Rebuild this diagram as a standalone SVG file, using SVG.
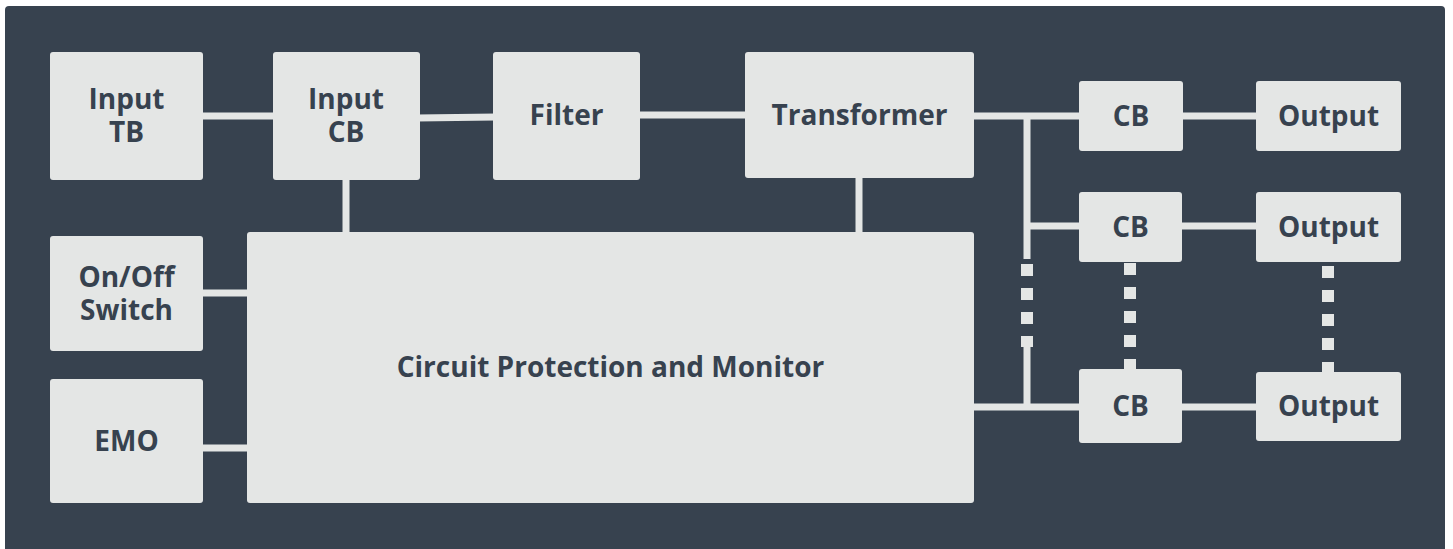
<svg xmlns="http://www.w3.org/2000/svg" width="1453" height="549" viewBox="0 0 1453 549">
<style>
.bg{fill:#37424f}
.box{fill:#e4e6e5}
.t{font-family:"Open Sans","DejaVu Sans",sans-serif;font-weight:700;font-size:28px;fill:#37424f;text-anchor:middle}
.w{stroke:#e4e6e5;stroke-width:7;fill:none}
.d{stroke:#e4e6e5;stroke-width:12;fill:none;stroke-dasharray:12 12}
</style>
<rect width="1453" height="549" fill="#ffffff"/>
<rect class="bg" x="5" y="6" width="1440" height="550" rx="4"/>
<g id="connectors">
<line class="w" x1="200" y1="116" x2="276" y2="116"/>
<line class="w" x1="417" y1="118" x2="496" y2="117"/>
<line class="w" x1="637" y1="115" x2="748" y2="115"/>
<line class="w" x1="971" y1="116" x2="1082" y2="116"/>
<line class="w" x1="346" y1="177" x2="346" y2="235"/>
<line class="w" x1="859" y1="175" x2="859" y2="235"/>
<line class="w" x1="200" y1="293" x2="250" y2="293"/>
<line class="w" x1="200" y1="448" x2="250" y2="448"/>
<line class="w" x1="1027" y1="116" x2="1027" y2="259"/>
<line class="d" x1="1027" y1="264" x2="1027" y2="347"/>
<line class="w" x1="1027" y1="347" x2="1027" y2="410"/>
<line class="w" x1="1027" y1="226" x2="1082" y2="226"/>
<line class="w" x1="971" y1="407" x2="1082" y2="407"/>
<line class="w" x1="1180" y1="116" x2="1259" y2="116"/>
<line class="w" x1="1180" y1="226" x2="1259" y2="226"/>
<line class="w" x1="1180" y1="407" x2="1259" y2="407"/>
<line class="d" x1="1130" y1="263" x2="1130" y2="371"/>
<line class="d" x1="1328" y1="266" x2="1328" y2="374"/>
</g>
<g id="input-tb"><rect class="box" x="50" y="52" width="153" height="128" rx="3"/><text class="t" x="126.5" y="109">Input</text><text class="t" x="126.5" y="142">TB</text></g>
<g id="input-cb"><rect class="box" x="273" y="52" width="147" height="128" rx="3"/><text class="t" x="346" y="109">Input</text><text class="t" x="346" y="142">CB</text></g>
<g id="filter"><rect class="box" x="493" y="52" width="147" height="128" rx="3"/><text class="t" x="566.5" y="125">Filter</text></g>
<g id="transformer"><rect class="box" x="745" y="52" width="229" height="126" rx="3"/><text class="t" x="859.5" y="125">Transformer</text></g>
<g id="onoff"><rect class="box" x="50" y="236" width="153" height="115" rx="3"/><text class="t" x="126.5" y="287">On/Off</text><text class="t" x="126.5" y="320">Switch</text></g>
<g id="emo"><rect class="box" x="50" y="379" width="153" height="124" rx="3"/><text class="t" x="126.5" y="451">EMO</text></g>
<g id="cpm"><rect class="box" x="247" y="232" width="727" height="271" rx="3"/><text class="t" x="610.5" y="377">Circuit Protection and Monitor</text></g>
<g id="cb1"><rect class="box" x="1079" y="81" width="104" height="70" rx="3"/><text class="t" x="1131" y="126">CB</text></g>
<g id="out1"><rect class="box" x="1256" y="81" width="145" height="70" rx="3"/><text class="t" x="1328.5" y="126">Output</text></g>
<g id="cb2"><rect class="box" x="1079" y="192" width="103" height="70" rx="3"/><text class="t" x="1130.5" y="237">CB</text></g>
<g id="out2"><rect class="box" x="1256" y="192" width="145" height="70" rx="3"/><text class="t" x="1328.5" y="237">Output</text></g>
<g id="cb3"><rect class="box" x="1079" y="369" width="103" height="74" rx="3"/><text class="t" x="1130.5" y="416">CB</text></g>
<g id="out3"><rect class="box" x="1256" y="372" width="145" height="69" rx="3"/><text class="t" x="1328.5" y="416">Output</text></g>
</svg>
